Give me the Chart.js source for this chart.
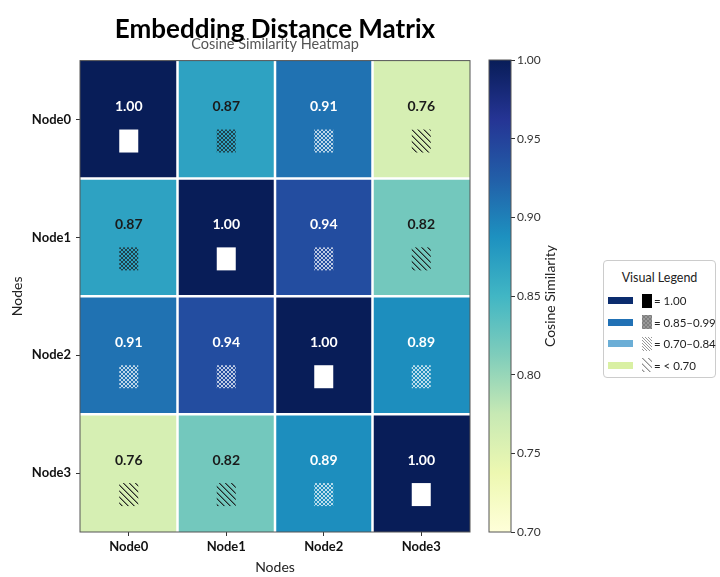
<!DOCTYPE html>
<html lang="en">
<head>
<meta charset="UTF-8">
<title>Embedding Distance Matrix</title>
<script src="https://cdn.jsdelivr.net/npm/chart.js"></script>
<style>
    body { margin: 0; background: #fff; font-family: Lato, sans-serif; }
    #wrap { position: relative; width: 720px; height: 577px; }
    #mainBox { position: absolute; left: 0; top: 0; width: 480px; height: 577px; }
    #cbBox { position: absolute; left: 480px; top: 0; width: 110px; height: 577px; }
    #legend {
        position: absolute; left: 603px; top: 260px; width: 113px; height: 118px;
        border: 1px solid #ccc; border-radius: 4px; box-sizing: border-box; background: #fff;
        font-size: 11.5px; color: #222; white-space: nowrap;
    }
    #legend .title { text-align: center; margin-top: 9px; margin-bottom: 5px; font-size: 12.5px; }
    #legend .row { display: flex; align-items: center; height: 21.5px; padding-left: 4px; }
    #legend .sw { width: 25px; height: 7px; margin-right: 9px; flex: none; }
    #legend canvas { margin-right: 2px; flex: none; }
</style>
</head>
<body>
<div id="wrap">
    <div id="mainBox"><canvas id="heatmap"></canvas></div>
    <div id="cbBox"><canvas id="colorbar"></canvas></div>
    <div id="legend">
        <div class="title">Visual Legend</div>
        <div class="row"><div class="sw" style="background:#0b2c6e"></div><canvas class="lg" data-kind="solid" width="10" height="14"></canvas><span>= 1.00</span></div>
        <div class="row"><div class="sw" style="background:#2171b5"></div><canvas class="lg" data-kind="dense" width="10" height="14"></canvas><span>= 0.85–0.99</span></div>
        <div class="row"><div class="sw" style="background:#6baed6"></div><canvas class="lg" data-kind="lines" width="10" height="14"></canvas><span>= 0.70–0.84</span></div>
        <div class="row"><div class="sw" style="background:#d9f0a3"></div><canvas class="lg" data-kind="sparse" width="10" height="14"></canvas><span>= &lt; 0.70</span></div>
    </div>
</div>

<script>
    // data
    const nodes = ['Node0', 'Node1', 'Node2', 'Node3'];
    const row0 = [1.00, 0.87, 0.91, 0.76];
    const row1 = [0.87, 1.00, 0.94, 0.82];
    const row2 = [0.91, 0.94, 1.00, 0.89];
    const row3 = [0.76, 0.82, 0.89, 1.00];
    const similarity = [row0, row1, row2, row3];
    const cbTicks = [0.70, 0.75, 0.80, 0.85, 0.90, 0.95, 1.00];
    const cbMin = 0.70, cbMax = 1.00;

    // YlGnBu colormap
    const ylgnbu = ['#ffffd9', '#edf8b1', '#c7e9b4', '#7fcdbb', '#41b6c4', '#1d91c0', '#225ea8', '#253494', '#081d58'];
    function hexRgb(h) { return [1, 3, 5].map(i => parseInt(h.substr(i, 2), 16)); }
    function cmap(v) {
        let t = Math.min(1, Math.max(0, (v - cbMin) / (cbMax - cbMin))) * (ylgnbu.length - 1);
        const i = Math.min(Math.floor(t), ylgnbu.length - 2), f = t - i;
        const a = hexRgb(ylgnbu[i]), b = hexRgb(ylgnbu[i + 1]);
        return 'rgb(' + a.map((c, k) => Math.round(c + (b[k] - c) * f)).join(',') + ')';
    }
    const textColor = v => v >= 0.88 ? '#ffffff' : '#1a1a1a';

    // hatch patterns
    function hatchCanvas(kind, color, alpha) {
        const c = document.createElement('canvas');
        const g = c.getContext('2d');
        if (kind === 'dense') {
            c.width = c.height = 4;
            g.fillStyle = color; g.globalAlpha = alpha || 0.8;
            for (let k = 0; k < 4; k++) { g.fillRect(k, k, 1, 1); g.fillRect(3 - k, k, 1, 1); }
        } else if (kind === 'lines') {
            c.width = c.height = 3;
            g.fillStyle = color;
            for (let k = 0; k < 3; k++) g.fillRect(k, k, 1, 1);
        } else {
            c.width = c.height = 6;
            g.fillStyle = color;
            for (let k = 0; k < 6; k++) {
                g.globalAlpha = 0.9; g.fillRect(k, k, 1, 1);
                g.globalAlpha = 0.45; g.fillRect((k + 1) % 6, k, 1, 1);
            }
        }
        return c;
    }

    const cellPlugin = {
        id: 'cells',
        afterDatasetsDraw(chart) {
            const { ctx, chartArea: a, scales: { x, y } } = chart;
            ctx.save();
            // white separators
            ctx.strokeStyle = '#ffffff';
            ctx.lineWidth = 2.5;
            for (let k = 1; k < nodes.length; k++) {
                const xb = (x.getPixelForValue(k - 1) + x.getPixelForValue(k)) / 2;
                const yb = y.getPixelForValue(k);
                ctx.beginPath(); ctx.moveTo(xb, a.top); ctx.lineTo(xb, a.bottom); ctx.stroke();
                ctx.beginPath(); ctx.moveTo(a.left, yb); ctx.lineTo(a.right, yb); ctx.stroke();
            }
            // frame
            ctx.strokeStyle = '#555';
            ctx.lineWidth = 1;
            ctx.strokeRect(a.left, a.top, a.right - a.left, a.bottom - a.top);

            similarity.forEach((row, i) => {
                const meta = chart.getDatasetMeta(i);
                row.forEach((v, j) => {
                    const bar = meta.data[j];
                    const cx = bar.x, cy = (bar.y + bar.base) / 2;
                    const col = textColor(v);
                    ctx.fillStyle = col;
                    ctx.font = 'bold 14px Lato';
                    ctx.textAlign = 'center';
                    ctx.textBaseline = 'middle';
                    ctx.fillText(v.toFixed(2), cx, cy - 13);
                    const w = 19, h = 23, sx = cx - w / 2, sy = cy + 10;
                    if (v >= 1) {
                        ctx.fillStyle = '#ffffff';
                    } else if (v >= 0.85) {
                        ctx.fillStyle = ctx.createPattern(hatchCanvas('dense', col, 0.7), 'repeat');
                    } else {
                        ctx.fillStyle = ctx.createPattern(hatchCanvas('sparse', col), 'repeat');
                    }
                    ctx.fillRect(sx, sy, w, h);
                });
            });
            ctx.restore();
        }
    };

    new Chart(document.getElementById('heatmap'), {
        type: 'bar',
        data: {
            labels: nodes,
            datasets: similarity.map((row, i) => ({
                label: nodes[i],
                data: row.map(() => 1),
                backgroundColor: row.map(cmap),
                barPercentage: 1,
                categoryPercentage: 1,
                borderWidth: 0
            }))
        },
        options: {
            responsive: true,
            maintainAspectRatio: false,
            animation: false,
            layout: { padding: { left: 0, right: 10, top: 0, bottom: 0 } },
            plugins: {
                legend: { display: false },
                tooltip: { enabled: false },
                title: {
                    display: true,
                    fullSize: false,
                    text: 'Embedding Distance Matrix',
                    color: '#000',
                    font: { family: 'Lato', size: 26, weight: 'bold' },
                    padding: { top: 14, bottom: 0 }
                },
                subtitle: {
                    display: true,
                    fullSize: false,
                    text: 'Cosine Similarity Heatmap',
                    color: '#555',
                    font: { family: 'Lato', size: 14.5 },
                    padding: { top: -10, bottom: 8 }
                }
            },
            scales: {
                x: {
                    stacked: true,
                    afterFit: s => { s.height = 45; },
                    grid: { offset: false, drawOnChartArea: false, tickLength: 4, color: '#333' },
                    border: { display: false },
                    ticks: { color: '#111', padding: 3, font: { family: 'Lato', size: 13, weight: 'bold' } },
                    title: { display: true, text: 'Nodes', color: '#222', font: { family: 'Lato', size: 14 }, padding: { top: 0, bottom: 1 } }
                },
                y: {
                    stacked: true,
                    reverse: true,
                    min: 0,
                    max: nodes.length,
                    afterFit: s => { s.width = 80; },
                    afterBuildTicks: s => { s.ticks = nodes.map((_, i) => ({ value: i + 0.5 })); },
                    grid: { drawOnChartArea: false, tickLength: 4, color: '#333' },
                    border: { display: false },
                    ticks: { color: '#111', padding: 5, font: { family: 'Lato', size: 13, weight: 'bold' },
                        callback: v => nodes[Math.floor(v)] },
                    title: { display: true, text: 'Nodes', color: '#222', font: { family: 'Lato', size: 14 }, padding: { top: 9, bottom: 0 } }
                }
            }
        },
        plugins: [cellPlugin]
    });

    // colorbar
    const cbPlugin = {
        id: 'cbFrame',
        afterDatasetsDraw(chart) {
            const { ctx, chartArea: a } = chart;
            ctx.save();
            ctx.strokeStyle = '#555';
            ctx.lineWidth = 1;
            ctx.strokeRect(a.left, a.top, a.right - a.left, a.bottom - a.top);
            ctx.translate(a.right + 39, (a.top + a.bottom) / 2);
            ctx.rotate(-Math.PI / 2);
            ctx.fillStyle = '#222';
            ctx.font = '14px Lato';
            ctx.textAlign = 'center';
            ctx.textBaseline = 'middle';
            ctx.fillText('Cosine Similarity', 0, 0);
            ctx.restore();
        }
    };

    new Chart(document.getElementById('colorbar'), {
        type: 'bar',
        data: {
            labels: ['cb'],
            datasets: [{
                data: [[cbMin, cbMax]],
                barPercentage: 1,
                categoryPercentage: 1,
                borderWidth: 0,
                backgroundColor: ctx => {
                    const a = ctx.chart.chartArea;
                    if (!a) return cmap(0.85);
                    const g = ctx.chart.ctx.createLinearGradient(0, a.bottom, 0, a.top);
                    ylgnbu.forEach((c, k) => g.addColorStop(k / (ylgnbu.length - 1), c));
                    return g;
                }
            }]
        },
        options: {
            responsive: true,
            maintainAspectRatio: false,
            animation: false,
            layout: { padding: { left: 9, right: 0, top: 60, bottom: 45 } },
            plugins: { legend: { display: false }, tooltip: { enabled: false } },
            scales: {
                x: { display: false },
                y: {
                    position: 'right',
                    min: cbMin,
                    max: cbMax,
                    afterFit: s => { s.width = 79; },
                    afterBuildTicks: s => { s.ticks = cbTicks.map(v => ({ value: v })); },
                    grid: { drawOnChartArea: false, tickLength: 4, color: '#333' },
                    border: { display: false },
                    ticks: { color: '#333', padding: 2, font: { family: 'Lato', size: 12 }, callback: v => v.toFixed(2) }
                }
            }
        },
        plugins: [cbPlugin]
    });

    // legend swatches
    document.querySelectorAll('canvas.lg').forEach(c => {
        const g = c.getContext('2d');
        const kind = c.dataset.kind;
        if (kind === 'solid') { g.fillStyle = '#000'; }
        else if (kind === 'dense') { g.fillStyle = '#999'; g.fillRect(0, 0, c.width, c.height); g.fillStyle = g.createPattern(hatchCanvas('dense', '#777'), 'repeat'); }
        else if (kind === 'lines') { g.fillStyle = g.createPattern(hatchCanvas('lines', '#999'), 'repeat'); }
        else { g.fillStyle = g.createPattern(hatchCanvas('sparse', '#888'), 'repeat'); }
        g.fillRect(0, 0, c.width, c.height);
    });
</script>
</body>
</html>
